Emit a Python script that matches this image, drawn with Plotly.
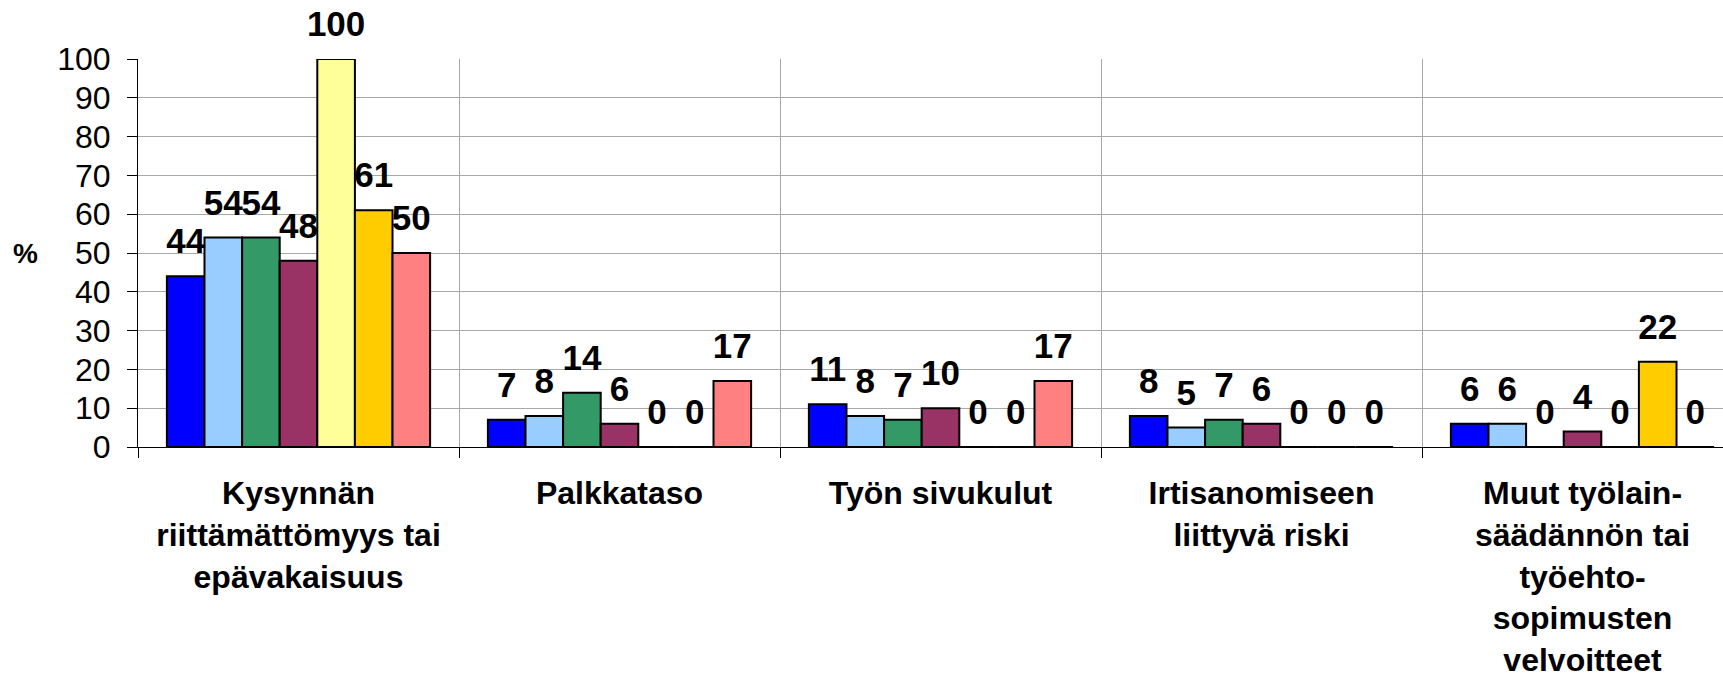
import plotly.graph_objects as go

categories = [
    "Kysynnän<br>riittämättömyys tai<br>epävakaisuus",
    "Palkkataso",
    "Työn sivukulut",
    "Irtisanomiseen<br>liittyvä riski",
    "Muut työlain-<br>säädännön tai<br>työehto-<br>sopimusten<br>velvoitteet",
]

series_names = ["Sarja 1", "Sarja 2", "Sarja 3", "Sarja 4", "Sarja 5", "Sarja 6", "Sarja 7"]
s1 = [44, 7, 11, 8, 6]
s2 = [54, 8, 8, 5, 6]
s3 = [54, 14, 7, 7, 0]
s4 = [48, 6, 10, 6, 4]
s5 = [100, 0, 0, 0, 0]
s6 = [61, 0, 0, 0, 22]
s7 = [50, 17, 17, 0, 0]
series_values = [s1, s2, s3, s4, s5, s6, s7]
colors = ["#0000FF", "#99CCFF", "#339966", "#993366", "#FFFF99", "#FFCC00", "#FF8080"]

y_ticks = [0, 10, 20, 30, 40, 50, 60, 70, 80, 90, 100]

FONT = "Arial, Liberation Sans, sans-serif"

fig = go.Figure()
for i, (name, vals, col) in enumerate(zip(series_names, series_values, colors)):
    fig.add_trace(go.Bar(
        x=categories, y=vals, name=name, offsetgroup=str(i),
        marker=dict(color=col, line=dict(color="black", width=2)),
        hoverinfo="skip",
    ))
for i, (name, vals) in enumerate(zip(series_names, series_values)):
    fig.add_trace(go.Scatter(
        x=categories, y=vals, name=name + " labels", offsetgroup=str(i),
        mode="markers+text", text=[str(v) for v in vals],
        textposition="top center",
        textfont=dict(family=FONT, size=35, color="black", weight="bold"),
        marker=dict(size=21, opacity=0),
        cliponaxis=False, hoverinfo="skip", showlegend=False,
    ))

fig.update_layout(
    width=1723, height=679,
    margin=dict(l=138, r=0, t=59, b=232),
    paper_bgcolor="white", plot_bgcolor="white",
    barmode="group", bargap=0.18, bargroupgap=0,
    scattermode="group", scattergap=0.18,
    showlegend=False,
    font=dict(family=FONT, color="black"),
    xaxis=dict(
        type="category", range=[-0.5, 4.4377], automargin=False,
        tickson="boundaries", ticks="outside", ticklen=10, tickcolor="black",
        showgrid=True, gridcolor="#A8A8A8", gridwidth=1,
        showline=True, linecolor="black", linewidth=1,
        tickfont=dict(family=FONT, size=32, color="black", weight="bold"),
        ticklabelstandoff=18,
    ),
    yaxis=dict(
        range=[0, 100], tickvals=y_ticks, automargin=False,
        ticks="outside", ticklen=10, tickcolor="black",
        showgrid=True, gridcolor="#A8A8A8", gridwidth=1,
        showline=True, linecolor="black", linewidth=1,
        zeroline=False,
        tickfont=dict(family=FONT, size=32, color="black"),
        ticklabelstandoff=10,
    ),
    annotations=[dict(
        text="<b>%</b>", xref="paper", yref="paper", x=-0.071, y=0.5,
        xanchor="center", yanchor="middle", showarrow=False,
        font=dict(family=FONT, size=28, color="black"),
    )],
)

fig.write_html(
    "out.html",
    config={"displayModeBar": False},
    post_script="document.body.style.margin='0';",
)
